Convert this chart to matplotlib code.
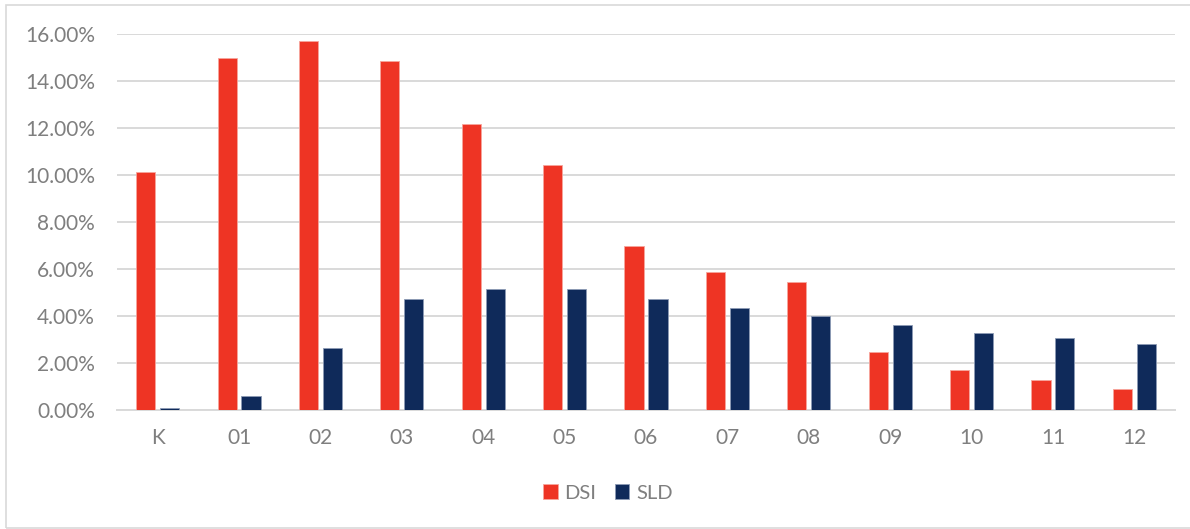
import numpy as np
import matplotlib.pyplot as plt
from matplotlib.patches import Rectangle
from matplotlib.ticker import FuncFormatter

# grade levels and the two series (percent)
grades = ["K", "01", "02", "03", "04", "05", "06", "07", "08", "09", "10", "11", "12"]
dsi = [10.13, 14.96, 15.69, 14.86, 12.15, 10.42, 6.97, 5.87, 5.42, 2.44, 1.70, 1.24, 0.87]
sld = [0.06, 0.59, 2.61, 4.70, 5.15, 5.15, 4.70, 4.32, 3.97, 3.60, 3.25, 3.06, 2.79]

RED = "#EE3424"
NAVY = "#0F2A5A"
GRID = "#D9D9D9"
TEXT = "#7F7F7F"

plt.rcParams["font.family"] = ["Lato", "DejaVu Sans"]

fig = plt.figure(figsize=(11.9, 5.29), dpi=100)
ax = fig.add_axes([117 / 1190, 1 - 409.5 / 529, 1058 / 1190, 375.5 / 529])

x = np.arange(len(grades))
w = 0.235
ax.bar(x - 0.147, dsi, w, color=RED, edgecolor="#F7A59C", linewidth=0.6, label="DSI", zorder=3)
ax.bar(x + 0.147, sld, w, color=NAVY, edgecolor="#8D9BB5", linewidth=0.6, label="SLD", zorder=3)

ax.set_xlim(-0.5, len(grades) - 0.5)
ax.set_ylim(0, 16)
ax.set_yticks(np.arange(0, 17, 2))
ax.yaxis.set_major_formatter(FuncFormatter(lambda v, _: f"{v:.2f}%"))
ax.set_xticks(x)
ax.set_xticklabels(grades)

ax.grid(axis="y", color=GRID, linewidth=1.4, zorder=0)
for s in ["top", "right", "left"]:
    ax.spines[s].set_visible(False)
ax.spines["bottom"].set_color(GRID)
ax.spines["bottom"].set_linewidth(1.4)
ax.tick_params(axis="both", length=0, labelsize=15, colors=TEXT)
ax.tick_params(axis="x", pad=13)
ax.tick_params(axis="y", pad=16)

fig.legend(loc="center", bbox_to_anchor=(608 / 1190, 1 - 493 / 529), ncol=2, frameon=False,
           fontsize=14.5, labelcolor=TEXT, handlelength=0.7, handleheight=0.7,
           handletextpad=0.35, columnspacing=0.9)

# chart border
fig.patches.append(Rectangle((6 / 1190, 1 / 529), 1190 / 1190, 523 / 529, transform=fig.transFigure,
                             fill=False, edgecolor=GRID, linewidth=1.2))

fig.savefig("out.png", dpi=100, facecolor="white")
